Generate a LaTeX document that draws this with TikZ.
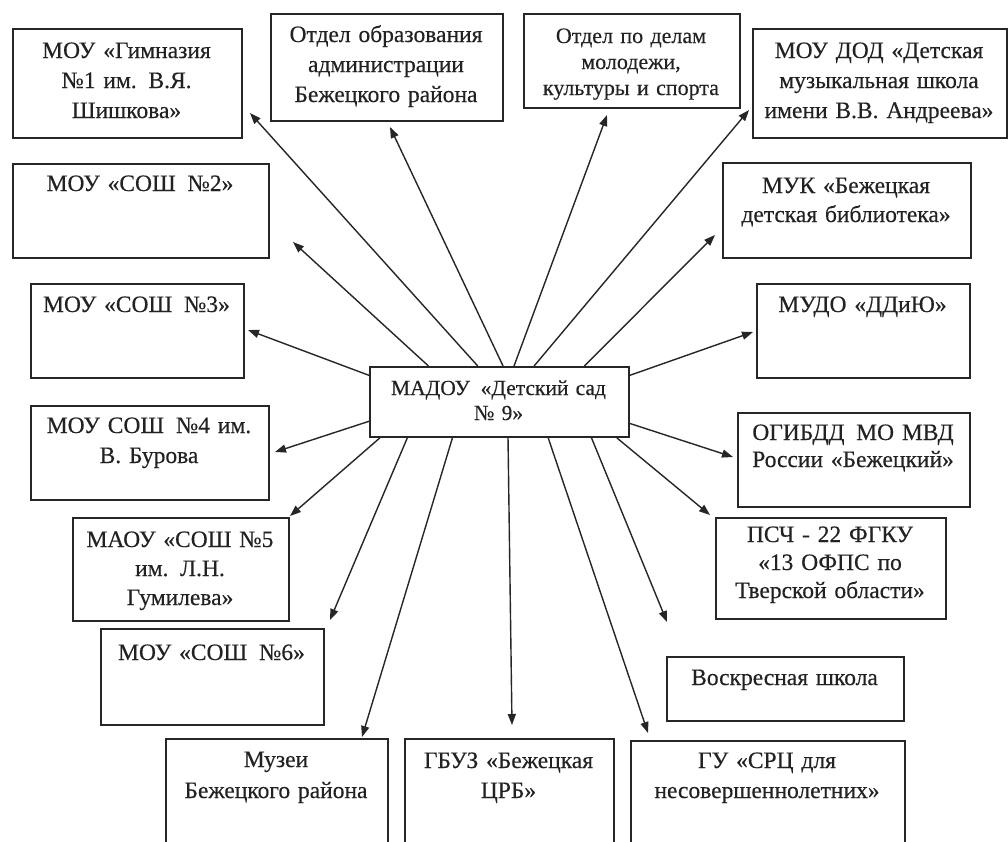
\documentclass[tikz,border=0pt]{standalone}
\usepackage{fontspec}
\setmainfont{Liberation Serif}[UprightFeatures={FakeBold=0.35}]
\usetikzlibrary{arrows.meta,calc}
\definecolor{linec}{HTML}{262626}
\definecolor{textc}{HTML}{222222}
\tikzset{
  box/.style={draw=linec, line width=1.8pt, inner sep=0pt},
  txt/.style={text=textc, inner sep=0pt, text width=#1, align=center,
              font=\fontsize{23.5}{30}\selectfont},
  txt/.default=230pt,
  arr/.style={draw=linec, line width=1.4pt, -{Triangle[length=11pt,width=8pt]}},
}
\newcommand\boxat[5]{\node[box, anchor=north west, minimum width={(#4-#2)*1pt},
  minimum height={(#5-#3)*1pt}] (#1) at (#2,#3) {};}
\begin{document}
\begin{tikzpicture}[x=1pt,y=-1pt]
\useasboundingbox (0,0) rectangle (1008,841);
\fill[white] (0,0) rectangle (1008,841);
\clip (0,0) rectangle (1008,841);

% boxes
\boxat{gim}{12}{28}{241}{137}
\boxat{otob}{270}{13}{502}{120}
\boxat{otmol}{523}{13}{739}{107}
\boxat{dod}{752}{28}{1006}{137}
\boxat{sosh2}{12}{163}{268}{257}
\boxat{muk}{722}{162}{970}{257}
\boxat{sosh3}{30}{283}{243}{377}
\boxat{mudo}{756}{283}{969}{377}
\boxat{c}{369}{366}{628}{436}
\boxat{sosh4}{30}{405}{268}{499}
\boxat{ogibdd}{737}{412}{969}{506}
\boxat{sosh5}{72}{517}{288}{620}
\boxat{psch}{715}{517}{945}{618}
\boxat{sosh6}{100}{628}{323}{724}
\boxat{vosk}{666}{656}{903}{720}
\boxat{muz}{165}{738}{387}{880}
\boxat{gbuz}{404}{738}{613}{880}
\boxat{src}{630}{740}{904}{880}

% texts
\node[txt=225pt, anchor=base] (gim-t) at (126.5,58) {МОУ «Гимназия\\№1 им. В.Я.\\Шишкова»};
\node[txt=228pt, anchor=base] (otob-t) at (386,42) {Отдел образования\\администрации\\Бежецкого района};
\node[txt=212pt, anchor=base, font=\fontsize{22}{26}\selectfont] (otmol-t) at (631,43) {Отдел по делам\\молодежи,\\культуры и спорта};
\node[txt=250pt, anchor=base] (dod-t) at (879,58) {МОУ ДОД «Детская\\музыкальная школа\\имени В.В. Андреева»};
\node[txt=250pt, anchor=base] (sosh2-t) at (140,191) {МОУ «СОШ\enspace№2»};
\node[txt=244pt, anchor=base, font=\fontsize{23.5}{29}\selectfont] (muk-t) at (846,193) {МУК «Бежецкая\\детская библиотека»};
\node[txt=210pt, anchor=base] (sosh3-t) at (136.5,312) {МОУ «СОШ\enspace№3»};
\node[txt=210pt, anchor=base] (mudo-t) at (862.5,312) {МУДО «ДДиЮ»};
\node[txt=255pt, anchor=base, font=\fontsize{21.5}{25}\selectfont] (c-t) at (498.5,395) {МАДОУ\enspace«Детский сад\\№ 9»};
\node[txt=234pt, anchor=base] (sosh4-t) at (149,433) {МОУ СОШ\enspace№4 им.\\В. Бурова};
\node[txt=228pt, anchor=base, font=\fontsize{23.5}{27}\selectfont] (ogibdd-t) at (853,440) {ОГИБДД\enspace МО МВД\\России «Бежецкий»};
\node[txt=212pt, anchor=base, font=\fontsize{23.5}{29}\selectfont] (sosh5-t) at (180,547) {МАОУ «СОШ №5\\им. Л.Н.\\Гумилева»};
\node[txt=226pt, anchor=base, font=\fontsize{23.5}{28}\selectfont] (psch-t) at (830,542) {ПСЧ - 22 ФГКУ\\«13 ОФПС по\\Тверской области»};
\node[txt=220pt, anchor=base] (sosh6-t) at (211.5,660) {МОУ «СОШ\enspace№6»};
\node[txt=233pt, anchor=base] (vosk-t) at (784.5,685) {Воскресная школа};
\node[txt=218pt, anchor=base, font=\fontsize{23.5}{31}\selectfont] (muz-t) at (276,767) {Музеи\\Бежецкого района};
\node[txt=205pt, anchor=base] (gbuz-t) at (508.5,768) {ГБУЗ «Бежецкая\\ЦРБ»};
\node[txt=270pt, anchor=base] (src-t) at (767,768) {ГУ «СРЦ для\\несовершеннолетних»};

% arrow tips
\coordinate (t1) at (250,113);
\coordinate (t2) at (390,127);
\coordinate (t3) at (607,115);
\coordinate (t4) at (749,110);
\coordinate (t5) at (715,235);
\coordinate (t6) at (293,242);
\coordinate (t7) at (248,330);
\coordinate (t8) at (753,332);
\coordinate (t9) at (275,452);
\coordinate (t10) at (733,457);
\coordinate (t11) at (290,516);
\coordinate (t12) at (330,620);
\coordinate (t13) at (362,737);
\coordinate (t14) at (512,725);
\coordinate (t15) at (648,733);
\coordinate (t16) at (667,622);
\coordinate (t17) at (710,515);

% arrows from center
\draw[arr] ($(c.north west)!0.417!(c.north east)$) -- (t1);
\draw[arr] ($(c.north west)!0.514!(c.north east)$) -- (t2);
\draw[arr] ($(c.north west)!0.556!(c.north east)$) -- (t3);
\draw[arr] ($(c.north west)!0.633!(c.north east)$) -- (t4);
\draw[arr] ($(c.north west)!0.826!(c.north east)$) -- (t5);
\draw[arr] ($(c.north west)!0.228!(c.north east)$) -- (t6);
\draw[arr] ($(c.north west)!0.13!(c.south west)$) -- (t7);
\draw[arr] ($(c.north east)!0.13!(c.south east)$) -- (t8);
\draw[arr] ($(c.north west)!0.77!(c.south west)$) -- (t9);
\draw[arr] ($(c.north east)!0.80!(c.south east)$) -- (t10);
\draw[arr] ($(c.south west)!0.042!(c.south east)$) -- (t11);
\draw[arr] ($(c.south west)!0.147!(c.south east)$) -- (t12);
\draw[arr] ($(c.south west)!0.320!(c.south east)$) -- (t13);
\draw[arr] ($(c.south west)!0.533!(c.south east)$) -- (t14);
\draw[arr] ($(c.south west)!0.687!(c.south east)$) -- (t15);
\draw[arr] ($(c.south west)!0.853!(c.south east)$) -- (t16);
\draw[arr] ($(c.south west)!0.95!(c.south east)$) -- (t17);
\end{tikzpicture}
\end{document}
